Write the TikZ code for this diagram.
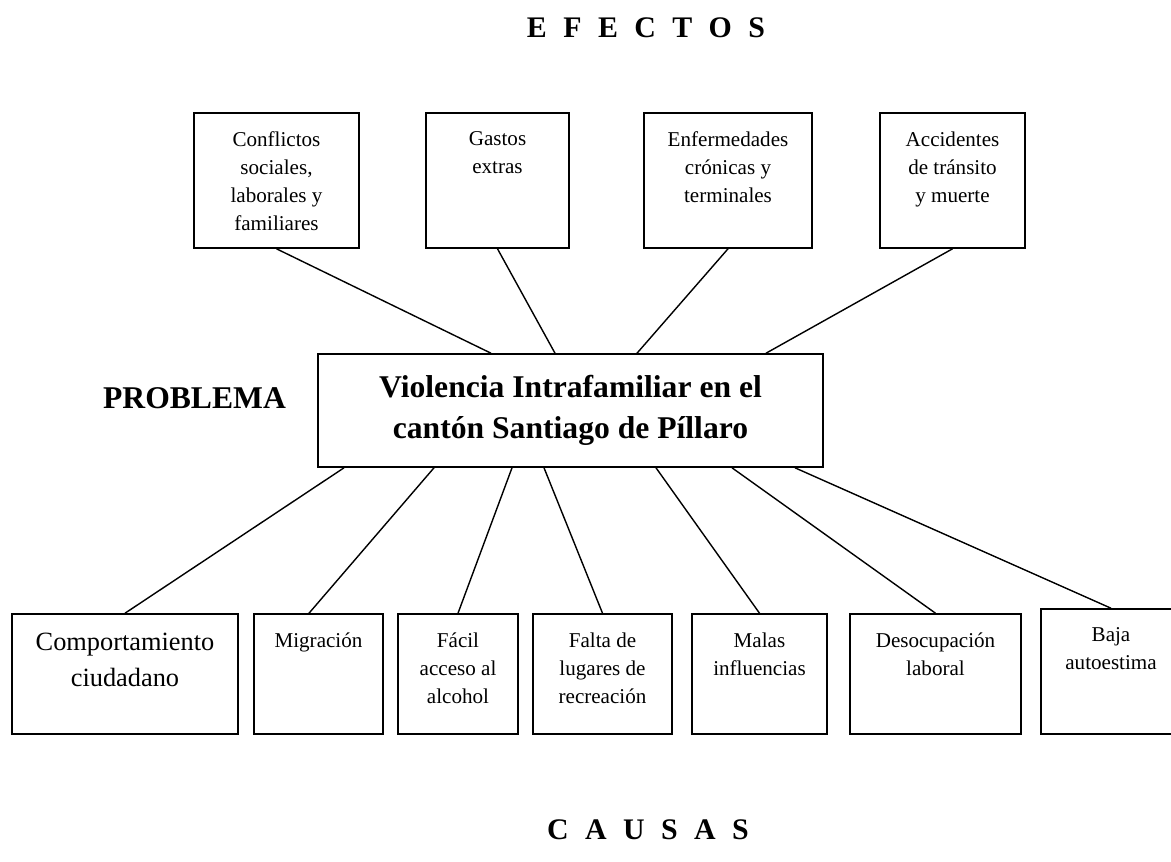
\documentclass[tikz,border=0pt]{standalone}
\usepackage{fontspec}
\setmainfont{Liberation Serif}
\usetikzlibrary{positioning}

\newcommand{\espacio}{\hspace{0.55em}}

\begin{document}
\begin{tikzpicture}[
    caja/.style={draw, line width=0.9pt, inner sep=0pt},
    efecto/.style={caja, minimum height=2.7cm},
    causa/.style={caja, minimum height=2.4cm},
    rotulo/.style={anchor=north, yshift=-0.26cm, align=center, font=\fontsize{12}{16}\selectfont},
    titulo/.style={font=\fontsize{17}{20}\selectfont\bfseries},
    enlace/.style={line width=0.8pt}
]
\useasboundingbox (0,0) rectangle (23.42,-17.22);

% Efectos
\node[titulo] (efectos) at (12.92,-0.56) {E\espacio F\espacio E\espacio C\espacio T\espacio O\espacio S};
\node[efecto, minimum width=3.3cm, label={[rotulo]north:{Conflictos\\sociales,\\laborales y\\familiares}}] (conflictos) at (5.53,-3.61) {};
\node[efecto, minimum width=2.86cm, label={[rotulo]north:{Gastos\\extras}}] (gastos) at (9.95,-3.61) {};
\node[efecto, minimum width=3.36cm, label={[rotulo]north:{Enfermedades\\crónicas y\\terminales}}] (enfermedades) at (14.56,-3.61) {};
\node[efecto, minimum width=2.9cm, label={[rotulo]north:{Accidentes\\de tránsito\\y muerte}}] (accidentes) at (19.05,-3.61) {};

% Problema
\node[caja, minimum width=10.1cm, minimum height=2.26cm, align=center, font=\fontsize{18}{23}\selectfont\bfseries] (problema) at (11.41,-8.21) {Violencia Intrafamiliar en el\\cantón Santiago de Píllaro};
\node[font=\fontsize{18}{22}\selectfont\bfseries] (rotproblema) at (3.89,-7.96) {PROBLEMA};

% Causas
\node[causa, minimum width=4.52cm, label={[rotulo, yshift=-0.02cm, font=\fontsize{15}{20}\selectfont]north:{Comportamiento\\ciudadano}}] (comportamiento) at (2.5,-13.48) {};
\node[causa, minimum width=2.58cm, label={[rotulo]north:{Migración}}] (migracion) at (6.37,-13.48) {};
\node[causa, minimum width=2.4cm, label={[rotulo]north:{Fácil\\acceso al\\alcohol}}] (facil) at (9.16,-13.48) {};
\node[causa, minimum width=2.78cm, label={[rotulo]north:{Falta de\\lugares de\\recreación}}] (falta) at (12.05,-13.48) {};
\node[causa, minimum width=2.7cm, label={[rotulo]north:{Malas\\influencias}}] (malas) at (15.19,-13.48) {};
\node[causa, minimum width=3.42cm, label={[rotulo]north:{Desocupación\\laboral}}] (desocupacion) at (18.71,-13.48) {};
\node[caja, minimum width=3.0cm, minimum height=2.5cm, label={[rotulo, xshift=-0.1cm]north:{Baja\\autoestima}}] (baja) at (22.32,-13.43) {};
\node[titulo] (causas) at (12.96,-16.6) {C\espacio A\espacio U\espacio S\espacio A\espacio S};

% Conectores
\draw[enlace] (conflictos.south) -- ([xshift=-1.59cm]problema.north);
\draw[enlace] (gastos.south) -- ([xshift=-0.31cm]problema.north);
\draw[enlace] (enfermedades.south) -- ([xshift=1.33cm]problema.north);
\draw[enlace] (accidentes.south) -- ([xshift=3.91cm]problema.north);

\draw[enlace] ([xshift=-4.53cm]problema.south) -- (comportamiento.north);
\draw[enlace] ([xshift=-2.73cm]problema.south) -- ([xshift=-0.19cm]migracion.north);
\draw[enlace] ([xshift=-1.17cm]problema.south) -- (facil.north);
\draw[enlace] ([xshift=-0.53cm]problema.south) -- (falta.north);
\draw[enlace] ([xshift=1.71cm]problema.south) -- (malas.north);
\draw[enlace] ([xshift=3.23cm]problema.south) -- (desocupacion.north);
\draw[enlace] ([xshift=4.49cm]problema.south) -- ([xshift=-0.1cm]baja.north);
\end{tikzpicture}
\end{document}
